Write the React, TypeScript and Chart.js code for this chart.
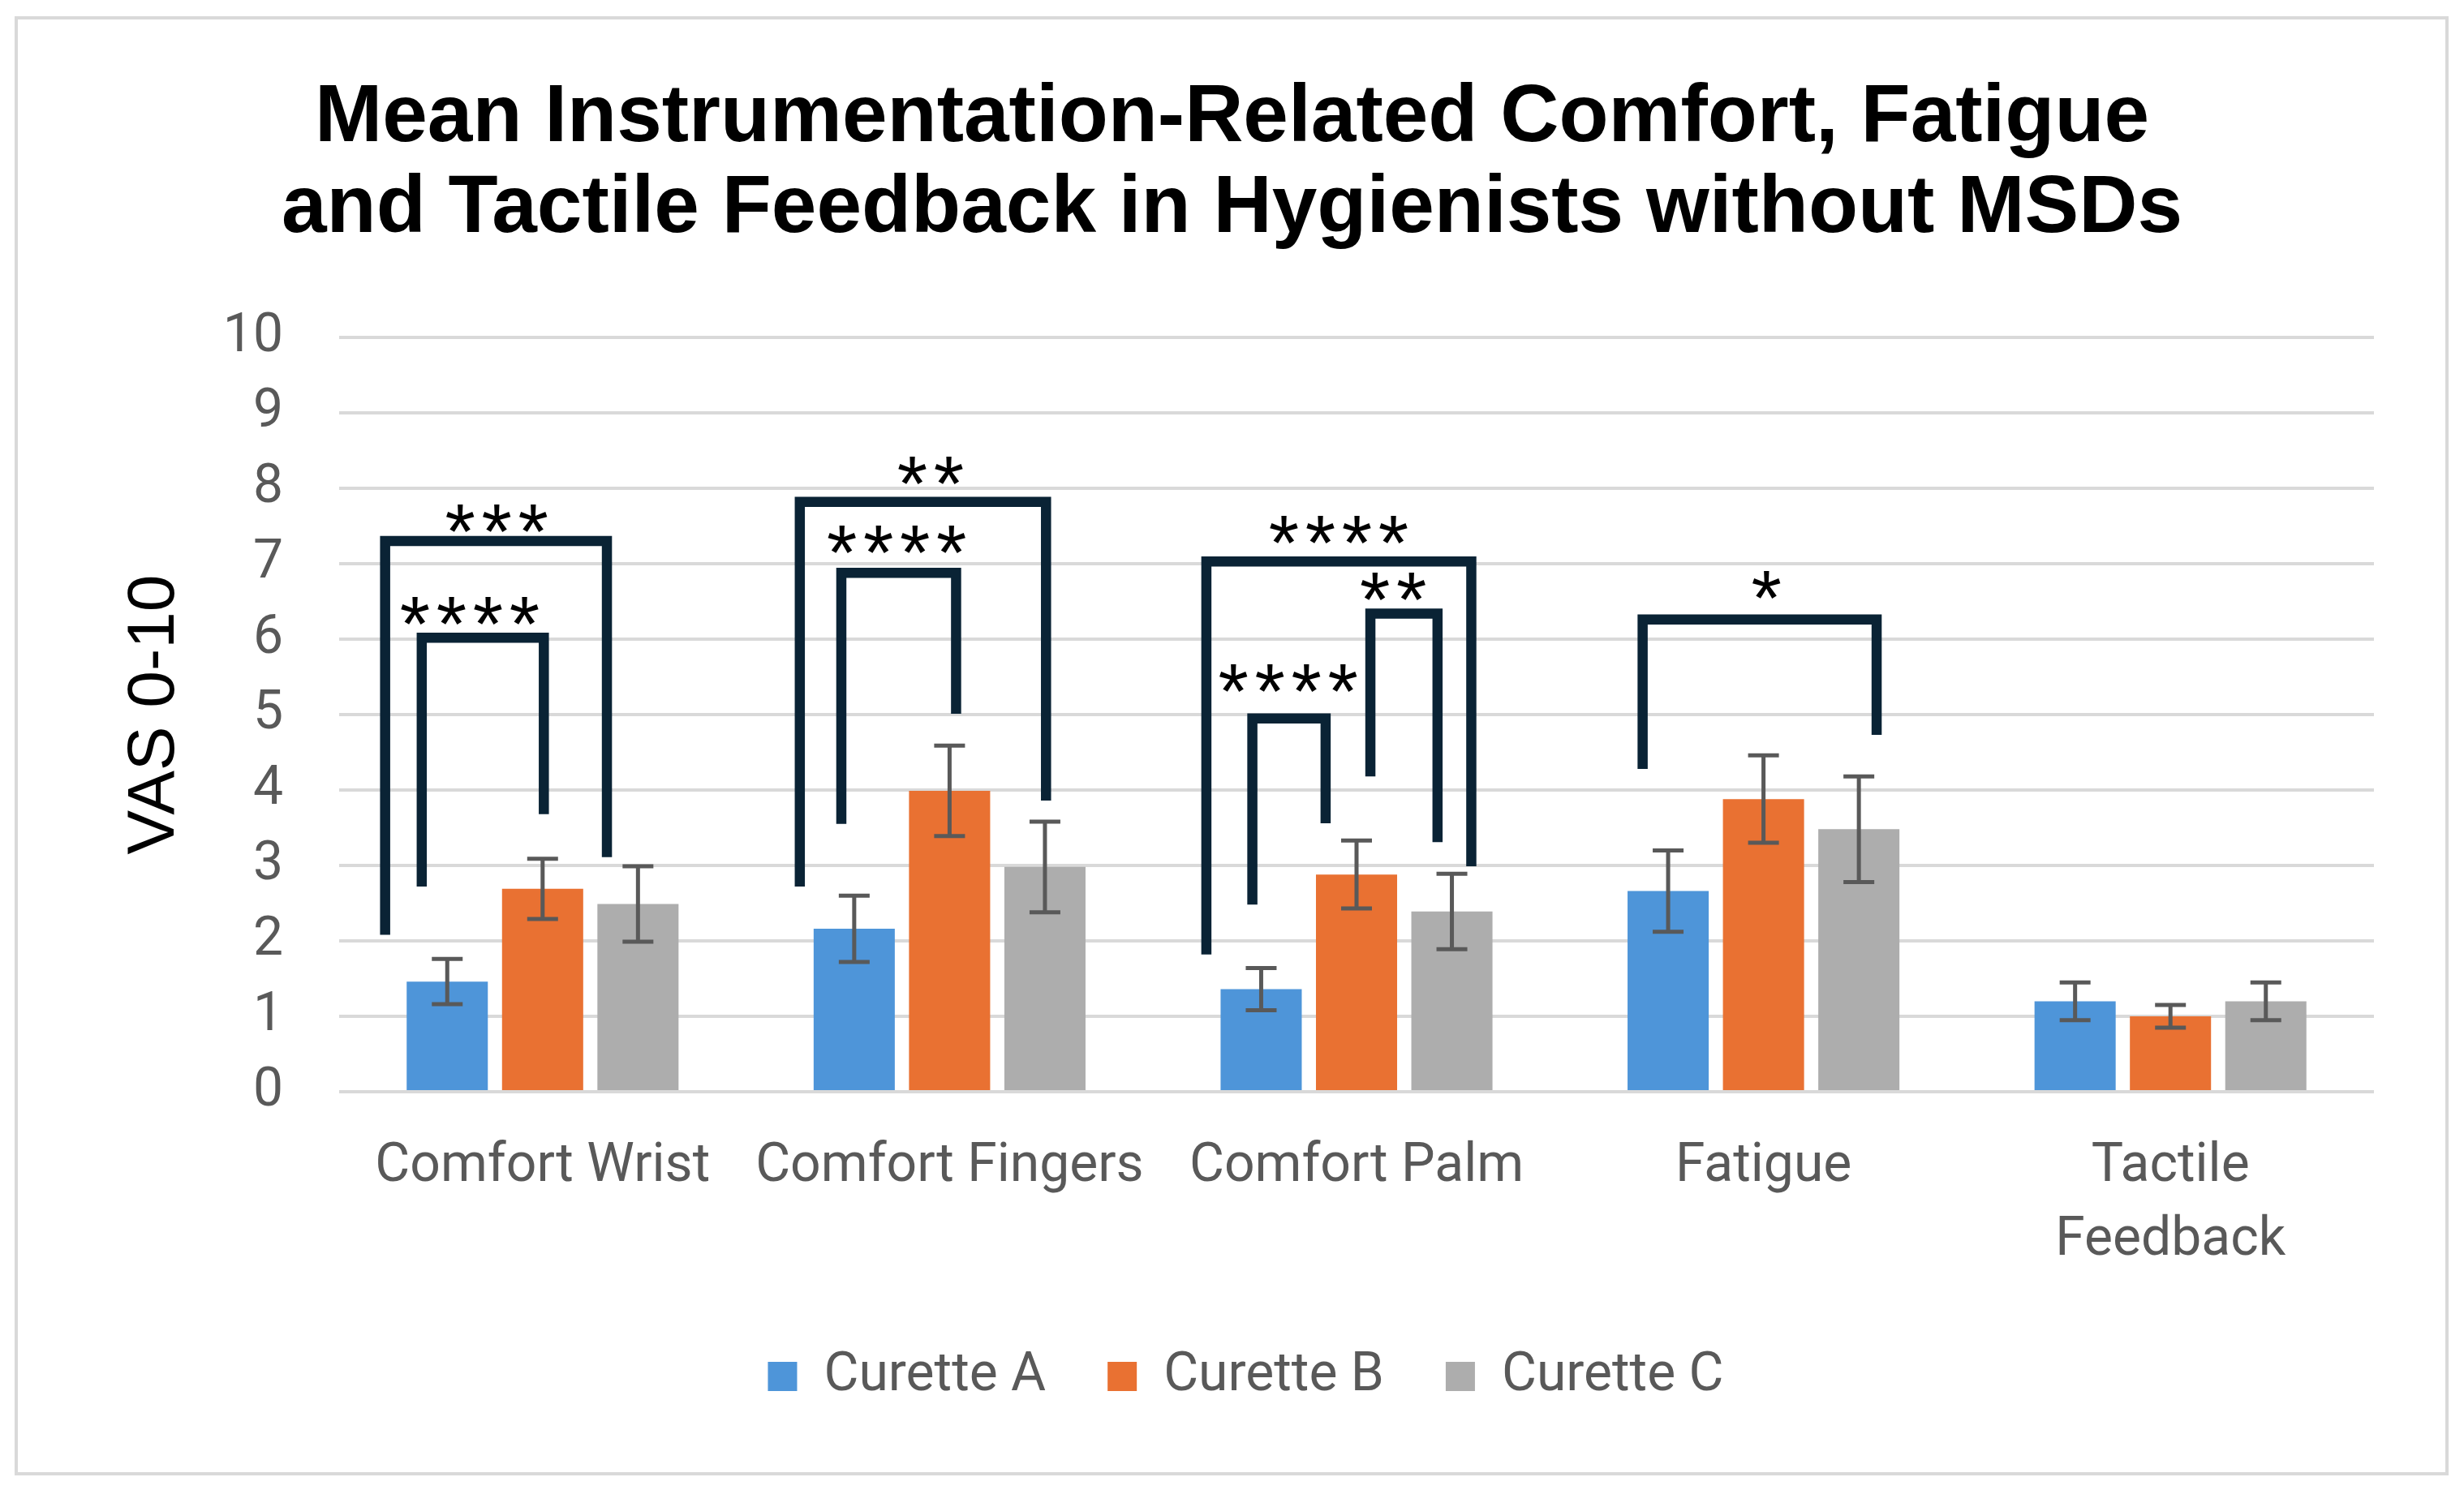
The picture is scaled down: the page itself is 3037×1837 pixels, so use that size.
import { useEffect, useRef } from "react";
import { Chart, registerables } from "chart.js";

Chart.register(...registerables);

// ---------- data ----------
const categories: (string | string[])[] = [
  "Comfort Wrist",
  "Comfort Fingers",
  "Comfort Palm",
  "Fatigue",
  ["Tactile", "Feedback"],
];
const seriesNames = ["Curette A", "Curette B", "Curette C"];
const curetteA = [1.46, 2.16, 1.36, 2.66, 1.2];
const curetteAErr = [0.3, 0.44, 0.28, 0.54, 0.25];
const curetteB = [2.69, 3.99, 2.88, 3.88, 1.0];
const curetteBErr = [0.4, 0.6, 0.45, 0.58, 0.15];
const curetteC = [2.49, 2.98, 2.39, 3.48, 1.2];
const curetteCErr = [0.5, 0.6, 0.5, 0.7, 0.25];
const seriesColors = ["#4E95D9", "#E97132", "#ADADAD"];
const titleLines = [
  "Mean Instrumentation-Related Comfort, Fatigue",
  "and Tactile Feedback in Hygienists without MSDs",
];
const yAxisTitle = "VAS 0-10";

// significance brackets (x in category units relative to category centre, y in VAS units)
const bracketCategory = [0, 0, 1, 1, 2, 2, 2, 3];
const bracketLeft = [-0.387, -0.297, -0.368, -0.266, -0.369, -0.256, 0.034, -0.297];
const bracketRight = [0.158, 0.003, 0.237, 0.016, 0.282, -0.076, 0.199, 0.278];
const bracketTop = [7.3, 6.02, 7.82, 6.88, 7.03, 4.95, 6.34, 6.26];
const bracketLeftEnd = [2.08, 2.72, 2.72, 3.55, 1.82, 2.48, 4.18, 4.28];
const bracketRightEnd = [3.11, 3.68, 3.86, 5.01, 2.99, 3.56, 3.31, 4.73];
const bracketStars = ["***", "****", "**", "****", "****", "****", "**", "*"];
const starX = [-0.113, -0.179, -0.047, -0.13, -0.044, -0.168, 0.09, 0.007];
const starY = [7.57, 6.34, 8.2, 7.29, 7.42, 5.45, 6.66, 6.68];

const means = [curetteA, curetteB, curetteC];
const errs = [curetteAErr, curetteBErr, curetteCErr];

const W = 3037;
const H = 1837;

const backgroundPlugin = {
  id: "bgBorder",
  beforeDraw(chart: any) {
    const ctx = chart.ctx;
    ctx.save();
    ctx.fillStyle = "#ffffff";
    ctx.fillRect(0, 0, chart.width, chart.height);
    ctx.strokeStyle = "#D9D9D9";
    ctx.lineWidth = 4;
    ctx.strokeRect(20, 22, 2996, 1795);
    ctx.restore();
  },
};

const legendShiftPlugin = {
  id: "legendShift",
  afterLayout(chart: any) {
    const lg = chart.legend;
    if (lg) {
      lg.left += 17;
      lg.right += 17;
    }
  },
};

const errorBarPlugin = {
  id: "errorBars",
  afterDatasetsDraw(chart: any) {
    const ctx = chart.ctx;
    const yS = chart.scales.y;
    ctx.save();
    ctx.strokeStyle = "#595959";
    ctx.lineWidth = 5;
    ctx.lineCap = "butt";
    means.forEach((m, di) => {
      const meta = chart.getDatasetMeta(di);
      meta.data.forEach((bar: any, i: number) => {
        const x = bar.x;
        const hi = yS.getPixelForValue(m[i] + errs[di][i]);
        const lo = yS.getPixelForValue(m[i] - errs[di][i]);
        const cw = 19;
        ctx.beginPath();
        ctx.moveTo(x, hi);
        ctx.lineTo(x, lo);
        ctx.moveTo(x - cw, hi);
        ctx.lineTo(x + cw, hi);
        ctx.moveTo(x - cw, lo);
        ctx.lineTo(x + cw, lo);
        ctx.stroke();
      });
    });
    ctx.restore();
  },
};

const bracketPlugin = {
  id: "brackets",
  afterDatasetsDraw(chart: any) {
    const ctx = chart.ctx;
    const xS = chart.scales.x;
    const yS = chart.scales.y;
    ctx.save();
    ctx.strokeStyle = "#0A2335";
    ctx.lineWidth = 12.5;
    ctx.lineJoin = "miter";
    ctx.lineCap = "butt";
    bracketCategory.forEach((c, i) => {
      const x1 = xS.getPixelForValue(c + bracketLeft[i]);
      const x2 = xS.getPixelForValue(c + bracketRight[i]);
      const yt = yS.getPixelForValue(bracketTop[i]);
      const yl = yS.getPixelForValue(bracketLeftEnd[i]);
      const yr = yS.getPixelForValue(bracketRightEnd[i]);
      ctx.beginPath();
      ctx.moveTo(x1, yl);
      ctx.lineTo(x1, yt);
      ctx.lineTo(x2, yt);
      ctx.lineTo(x2, yr);
      ctx.stroke();
      // stars
      const fs = 96;
      ctx.fillStyle = "#000000";
      ctx.font = `${fs}px "Liberation Sans", Arial, sans-serif`;
      ctx.textAlign = "center";
      ctx.textBaseline = "alphabetic";
      const n = bracketStars[i].length;
      const cx = xS.getPixelForValue(c + starX[i]);
      const cy = yS.getPixelForValue(starY[i]);
      const gap = 45;
      for (let j = 0; j < n; j++) {
        ctx.fillText("*", cx + (j - (n - 1) / 2) * gap, cy + 0.475 * fs);
      }
    });
    ctx.restore();
  },
};

export default function App() {
  const ref = useRef<HTMLCanvasElement | null>(null);
  useEffect(() => {
    if (!ref.current) return;
    const chart = new Chart(ref.current, {
      type: "bar",
      data: {
        labels: categories as any,
        datasets: means.map((m, i) => ({
          label: seriesNames[i],
          data: m,
          backgroundColor: seriesColors[i],
          borderWidth: 0,
          barPercentage: 0.851,
          categoryPercentage: 0.703,
        })),
      },
      options: {
        responsive: false,
        animation: false,
        devicePixelRatio: 1,
        layout: { padding: { left: 111, right: 111, top: 0, bottom: 97 } },
        plugins: {
          title: {
            display: true,
            text: titleLines,
            color: "#000000",
            font: { family: '"Liberation Sans", Arial, sans-serif', size: 100, weight: "bold", lineHeight: 1.125 },
            padding: { top: 89.75, bottom: 101.25 },
          },
          legend: {
            position: "bottom",
            labels: {
              color: "#595959",
              font: { family: "Roboto", size: 66 },
              boxWidth: 36,
              boxHeight: 36,
              padding: 76,
            },
          },
          tooltip: { enabled: false },
        },
        scales: {
          x: {
            grid: { display: false, drawTicks: false },
            border: { display: false },
            ticks: {
              color: "#595959",
              font: { family: "Roboto", size: 66, lineHeight: 1.379 },
              padding: 47.5,
              maxRotation: 0,
              minRotation: 0,
              autoSkip: false,
            },
            afterFit: (s: any) => {
              s.height = 242;
            },
          },
          y: {
            min: 0,
            max: 10,
            ticks: {
              stepSize: 1,
              color: "#595959",
              font: { family: "Roboto", size: 66 },
              padding: 69,
            },
            grid: { color: "#D9D9D9", lineWidth: 4, drawTicks: false },
            border: { display: false },
            title: {
              display: true,
              text: yAxisTitle,
              color: "#000000",
              font: { family: '"Liberation Sans", Arial, sans-serif', size: 82, lineHeight: 1 },
              padding: { top: 39, bottom: 0 },
            },
            afterFit: (s: any) => {
              s.width = 307;
            },
          },
        },
      },
      plugins: [backgroundPlugin, legendShiftPlugin, bracketPlugin, errorBarPlugin],
    } as any);
    return () => chart.destroy();
  }, []);
  return (
    <div style={{ position: "absolute", left: 0, top: 0, width: W, height: H }}>
      <canvas ref={ref} width={W} height={H} style={{ display: "block", width: W, height: H }} />
    </div>
  );
}
